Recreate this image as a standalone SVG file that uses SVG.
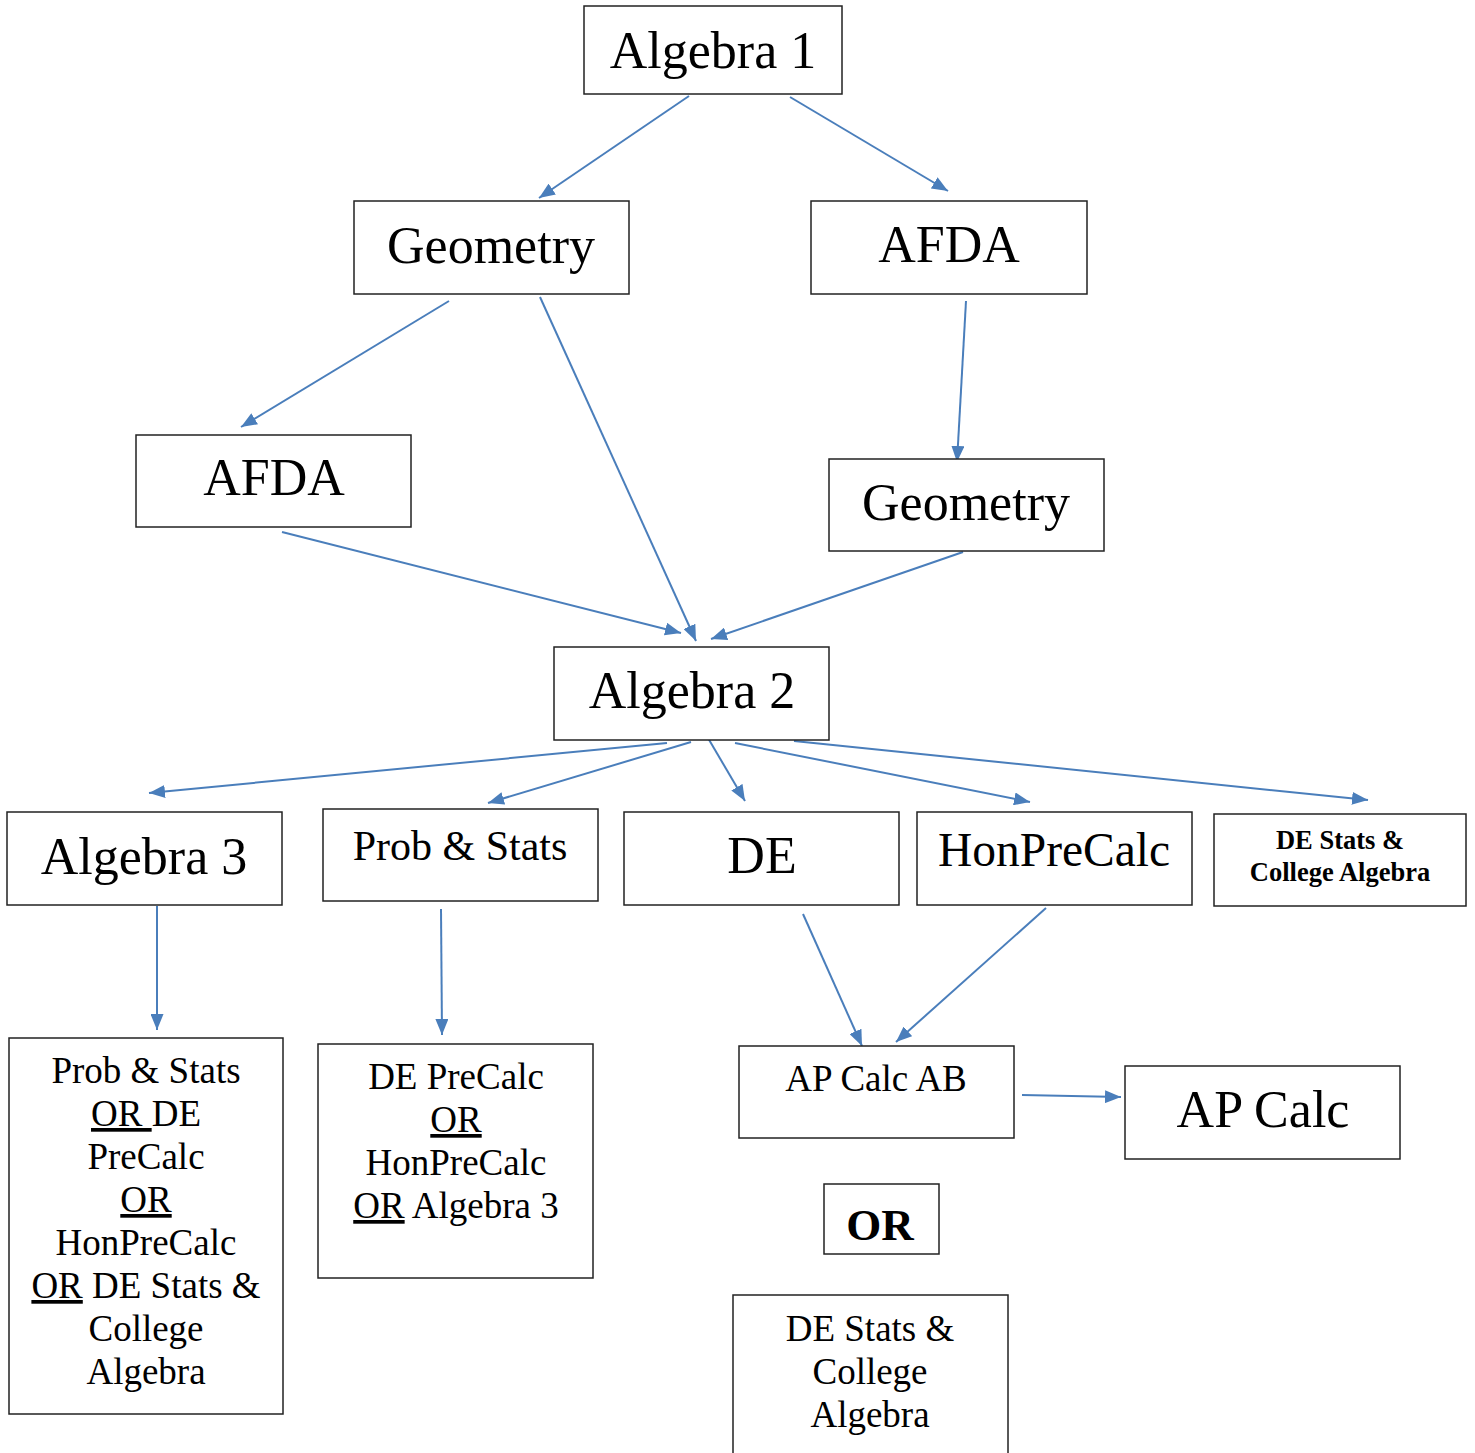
<svg xmlns="http://www.w3.org/2000/svg" width="1475" height="1453" viewBox="0 0 1475 1453">
<style>
.box{fill:#fff;stroke:#222;stroke-width:1.5}
.t{font-family:"Liberation Serif","Times New Roman",serif;fill:#000;text-anchor:middle}
.big{font-size:52px}
.mid{font-size:37px}
.b{font-weight:bold}
.u{text-decoration:underline}
.c{stroke:#4a7ebb;stroke-width:2;fill:none;marker-end:url(#ah)}
</style>
<defs>
<marker id="ah" markerUnits="userSpaceOnUse" markerWidth="16" markerHeight="13" refX="16" refY="6.5" orient="auto">
<path d="M0,0 L16,6.5 L0,13 z" fill="#4a7ebb"/>
</marker>
</defs>
<rect width="1475" height="1453" fill="#fff"/>
<g id="connectors">
<line class="c" x1="689" y1="96" x2="539" y2="198"/>
<line class="c" x1="790" y1="97" x2="948" y2="191"/>
<line class="c" x1="449" y1="301" x2="241" y2="427"/>
<line class="c" x1="540" y1="297" x2="696" y2="641"/>
<line class="c" x1="966" y1="301" x2="957" y2="462"/>
<line class="c" x1="282" y1="532" x2="681" y2="633"/>
<line class="c" x1="963" y1="552" x2="711" y2="639"/>
<line class="c" x1="667" y1="743" x2="149" y2="793"/>
<line class="c" x1="691" y1="742" x2="488" y2="803"/>
<line class="c" x1="708" y1="738" x2="745" y2="801"/>
<line class="c" x1="735" y1="743" x2="1030" y2="802"/>
<line class="c" x1="794" y1="741" x2="1368" y2="800"/>
<line class="c" x1="157" y1="906" x2="157" y2="1030"/>
<line class="c" x1="441" y1="909" x2="442" y2="1035"/>
<line class="c" x1="803" y1="914" x2="862" y2="1046"/>
<line class="c" x1="1046" y1="908" x2="896" y2="1042"/>
<line class="c" x1="1022" y1="1095" x2="1121" y2="1097"/>
</g>
<g id="algebra1"><rect class="box" x="584" y="6" width="258" height="88"/><text class="t big" x="713" y="68">Algebra 1</text></g>
<g id="geometry1"><rect class="box" x="354" y="201" width="275" height="93"/><text class="t big" x="491" y="263">Geometry</text></g>
<g id="afda1"><rect class="box" x="811" y="201" width="276" height="93"/><text class="t big" x="949" y="262">AFDA</text></g>
<g id="afda2"><rect class="box" x="136" y="435" width="275" height="92"/><text class="t big" x="274" y="495">AFDA</text></g>
<g id="geometry2"><rect class="box" x="829" y="459" width="275" height="92"/><text class="t big" x="966" y="520">Geometry</text></g>
<g id="algebra2"><rect class="box" x="554" y="647" width="275" height="93"/><text class="t big" x="692" y="708">Algebra 2</text></g>
<g id="algebra3"><rect class="box" x="7" y="812" width="275" height="93"/><text class="t big" x="144" y="874">Algebra 3</text></g>
<g id="probstats"><rect class="box" x="323" y="809" width="275" height="92"/><text class="t" style="font-size:42px" x="460" y="860">Prob &amp; Stats</text></g>
<g id="de"><rect class="box" x="624" y="812" width="275" height="93"/><text class="t big" x="762" y="873">DE</text></g>
<g id="honprecalc"><rect class="box" x="917" y="812" width="275" height="93"/><text class="t" style="font-size:47.5px" x="1054" y="866">HonPreCalc</text></g>
<g id="destats1"><rect class="box" x="1214" y="814" width="252" height="92"/><text class="t b" style="font-size:26.5px" x="1340" y="849">DE Stats &amp;</text><text class="t b" style="font-size:26.5px" x="1340" y="881">College Algebra</text></g>
<g id="options1"><rect class="box" x="9" y="1038" width="274" height="376"/>
<text class="t mid" x="146" y="1083">Prob &amp; Stats</text>
<text class="t mid" x="146" y="1126"><tspan class="u">OR </tspan>DE</text>
<text class="t mid" x="146" y="1169">PreCalc</text>
<text class="t mid" x="146" y="1212"><tspan class="u">OR</tspan></text>
<text class="t mid" x="146" y="1255">HonPreCalc</text>
<text class="t mid" x="146" y="1298"><tspan class="u">OR</tspan> DE Stats &amp;</text>
<text class="t mid" x="146" y="1341">College</text>
<text class="t mid" x="146" y="1384">Algebra</text>
</g>
<g id="options2"><rect class="box" x="318" y="1044" width="275" height="234"/>
<text class="t mid" x="456" y="1089">DE PreCalc</text>
<text class="t mid" x="456" y="1132"><tspan class="u">OR</tspan></text>
<text class="t mid" x="456" y="1175">HonPreCalc</text>
<text class="t mid" x="456" y="1218"><tspan class="u">OR</tspan> Algebra 3</text>
</g>
<g id="apcalcab"><rect class="box" x="739" y="1046" width="275" height="92"/><text class="t mid" x="876" y="1091">AP Calc AB</text></g>
<g id="apcalc"><rect class="box" x="1125" y="1066" width="275" height="93"/><text class="t big" x="1263" y="1127">AP Calc</text></g>
<g id="or"><rect class="box" x="824" y="1184" width="115" height="70"/><text class="t b" style="font-size:45px" x="880" y="1240">OR</text></g>
<g id="destats2"><rect class="box" x="733" y="1295" width="275" height="170"/>
<text class="t mid" x="870" y="1341">DE Stats &amp;</text>
<text class="t mid" x="870" y="1384">College</text>
<text class="t mid" x="870" y="1427">Algebra</text>
</g>
</svg>
